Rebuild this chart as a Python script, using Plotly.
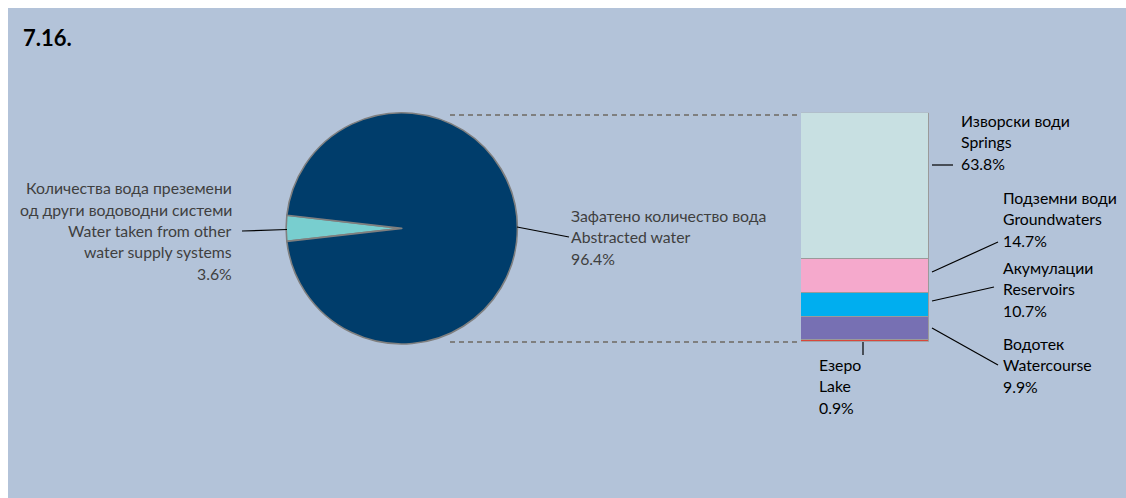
import plotly.graph_objects as go

W, H = 1126, 498

# Share of supplied water by origin (pie)
pie_mk = ["Количества вода преземени", "Зафатено количество вода"]
pie_mk2 = ["од други водоводни системи", ""]
pie_en = ["Water taken from other", "Abstracted water"]
pie_en2 = ["water supply systems", ""]
pie_values = [3.6, 96.4]
pie_colors = ["#78CECF", "#003D6B"]

# Breakdown of abstracted water by source (stacked bar, bottom to top)
src_mk = ["Езеро", "Водотек", "Акумулации", "Подземни води", "Изворски води"]
src_en = ["Lake", "Watercourse", "Reservoirs", "Groundwaters", "Springs"]
src_values = [0.9, 9.9, 10.7, 14.7, 63.8]
src_colors = ["#D9473A", "#7770B3", "#00AEEF", "#F5A9CC", "#C8E0E2"]

FONT = "Lato"
FONT_SIZE = 15.8
LINE_H = 21.5


def px(x):
    return x / W


def py(y):
    return 1 - y / H


fig = go.Figure()

# pie, small slice centred on the left (9 o'clock)
fig.add_trace(go.Pie(
    values=pie_values,
    labels=[a + " / " + b for a, b in zip(pie_mk, pie_en)],
    marker=dict(colors=pie_colors, line=dict(color="#7F7F7F", width=1.6)),
    sort=False,
    direction="clockwise",
    rotation=270 - pie_values[0] * 3.6 / 2,
    textinfo="none",
    hoverinfo="label+value",
    showlegend=False,
    domain=dict(x=[px(286), px(517.5)], y=[py(344), py(112.7)]),
))

# stacked bar
for mk, en, v, c in zip(src_mk, src_en, src_values, src_colors):
    fig.add_trace(go.Bar(
        x=["src"], y=[v], name=en,
        marker=dict(color=c, line=dict(color="#9A9A9A", width=1)),
        showlegend=False,
        hovertemplate=mk + " / " + en + ": %{y}%<extra></extra>",
    ))

annotations = []


def add_block(lines, x, y_first, anchor, color):
    for i, t in enumerate(lines):
        annotations.append(dict(
            x=px(x), y=py(y_first + i * LINE_H), xref="paper", yref="paper",
            text=t, showarrow=False, xanchor=anchor, yanchor="middle",
            font=dict(family=FONT, size=FONT_SIZE, color=color),
        ))


def pct(v):
    return f"{v:.1f}%"


# pie labels
add_block([pie_mk[0], pie_mk2[0], pie_en[0], pie_en2[0], pct(pie_values[0])],
          234, 187.5, "right", "#3F3F3F")
add_block([pie_mk[1], pie_en[1], pct(pie_values[1])], 569, 215, "left", "#3F3F3F")

# bar labels
bar_label_pos = {
    "Springs": (959, 120),
    "Groundwaters": (1001, 197),
    "Reservoirs": (1001, 267),
    "Watercourse": (1001, 343),
    "Lake": (817, 364),
}
for mk, en, v in zip(src_mk, src_en, src_values):
    x, y = bar_label_pos[en]
    add_block([mk, en, pct(v)], x, y, "left", "#000000")

# title
annotations.append(dict(
    x=px(21), y=py(37), xref="paper", yref="paper", text="<b>7.16.</b>",
    showarrow=False, xanchor="left", yanchor="middle",
    font=dict(family=FONT, size=22, color="#000000"),
))

shapes = [
    # panel background
    dict(type="rect", xref="paper", yref="paper", x0=px(8), x1=1, y0=0, y1=py(8),
         fillcolor="#B3C3D9", line=dict(width=0), layer="below"),
    # dashed connectors between pie and bar
    dict(type="line", xref="paper", yref="paper", x0=px(450), x1=px(800),
         y0=py(115), y1=py(115), line=dict(color="#7F7F7F", width=2, dash="5px,4px")),
    dict(type="line", xref="paper", yref="paper", x0=px(450), x1=px(800),
         y0=py(342), y1=py(342), line=dict(color="#7F7F7F", width=2, dash="5px,4px")),
]

# leader lines
leaders = [
    (242, 231, 287, 229.5),
    (517, 227, 569, 237),
    (932, 165, 953, 165),
    (932, 272, 998, 242),
    (932, 301, 994, 287),
    (932, 328, 998, 365),
    (863, 342, 863, 355),
]
for x0, y0, x1, y1 in leaders:
    shapes.append(dict(type="line", xref="paper", yref="paper",
                       x0=px(x0), y0=py(y0), x1=px(x1), y1=py(y1),
                       line=dict(color="#000000", width=1.2)))

fig.update_layout(
    width=W, height=H,
    margin=dict(l=0, r=0, t=0, b=0),
    paper_bgcolor="#FFFFFF",
    plot_bgcolor="rgba(0,0,0,0)",
    barmode="stack",
    bargap=0,
    xaxis=dict(domain=[px(801), px(929)], visible=False, fixedrange=True),
    yaxis=dict(domain=[py(341.7), py(112.7)], range=[0, 100], visible=False, fixedrange=True),
    annotations=annotations,
    shapes=shapes,
)

fig.write_html("out.html")
